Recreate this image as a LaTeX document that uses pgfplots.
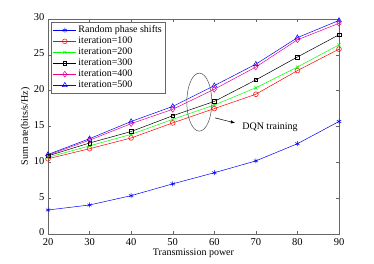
\documentclass[border=0pt]{standalone}
\usepackage{fontspec}
\setmainfont{Liberation Serif}
\usepackage{pgfplots}
\pgfplotsset{compat=1.18}
\begin{document}
\begin{tikzpicture}[x=1pt,y=1pt]
\begin{axis}[
  name=ax,
  at={(0,0)}, anchor=origin,
  scale only axis, width=291pt, height=215pt,
  xmin=20, xmax=90, ymin=0, ymax=30,
  xtick={20,30,...,90}, ytick={0,5,...,30},
  tick align=inside, tick pos=both,
  axis line style={gray!80!black, line width=0.5pt},
  major tick length=3pt,
  every tick/.style={gray!80!black, line width=0.4pt},
  tick label style={font=\fontsize{10.5}{12}\selectfont},
  yticklabel style={yshift=1.5pt},
  xticklabel style={yshift=-1pt},
  /pgf/number format/assume math mode=true,
  xlabel={Transmission power}, ylabel={Sum rate(bits/s/Hz)},
  label style={font=\fontsize{10}{12}\selectfont},
  xlabel style={yshift=4pt}, ylabel style={yshift=-3pt},
  legend style={at={(0.012,0.985)}, anchor=north west, font=\fontsize{10}{10}\selectfont,
    draw=gray!80!black, row sep=-1.2pt, inner sep=1.5pt},
  legend cell align=left,
  legend image code/.code={\draw[mark repeat=2,mark phase=2] plot coordinates {(0cm,0cm) (0.4cm,0cm) (0.8cm,0cm)};},
  every axis plot/.append style={line width=0.5pt},
  clip=false,
]
\addplot[blue, mark=asterisk, mark size=2.5pt] coordinates {(20,3.35) (30,4.05) (40,5.35) (50,7.0) (60,8.55) (70,10.2) (80,12.6) (90,15.7)};
\addlegendentry{Random phase shifts}
\addplot[red, mark=o, mark size=2.4pt] coordinates {(20,10.5) (30,11.9) (40,13.4) (50,15.5) (60,17.5) (70,19.5) (80,22.8) (90,25.8)};
\addlegendentry{iteration=100}
\addplot[green, mark=x, mark size=2.2pt] coordinates {(20,10.7) (30,12.3) (40,13.9) (50,16.0) (60,18.0) (70,20.4) (80,23.3) (90,26.4)};
\addlegendentry{iteration=200}
\addplot[black, mark=square, mark size=1.8pt] coordinates {(20,10.9) (30,12.7) (40,14.3) (50,16.5) (60,18.5) (70,21.5) (80,24.7) (90,27.8)};
\addlegendentry{iteration=300}
\addplot[magenta, mark=diamond, mark size=2.9pt] coordinates {(20,11.0) (30,13.1) (40,15.4) (50,17.4) (60,20.2) (70,23.3) (80,27.1) (90,29.4)};
\addlegendentry{iteration=400}
\addplot[blue, mark=triangle, mark size=2.8pt] coordinates {(20,11.1) (30,13.3) (40,15.7) (50,17.8) (60,20.7) (70,23.7) (80,27.4) (90,29.8)};
\addlegendentry{iteration=500}
\draw[black!70, line width=0.5pt] (axis cs:56.4,18.4) ellipse [x radius=12.5pt, y radius=29pt];
\draw[-latex, line width=0.5pt] (axis cs:60.2,16.2) -- (axis cs:65.0,15.5);
\node[anchor=west, font=\fontsize{10}{12}\selectfont, inner sep=0pt] at (axis cs:66.7,14.9) {DQN training};
\end{axis}
\pgfresetboundingbox
\useasboundingbox (-48,-29) rectangle (326,234);
\end{tikzpicture}
\end{document}
